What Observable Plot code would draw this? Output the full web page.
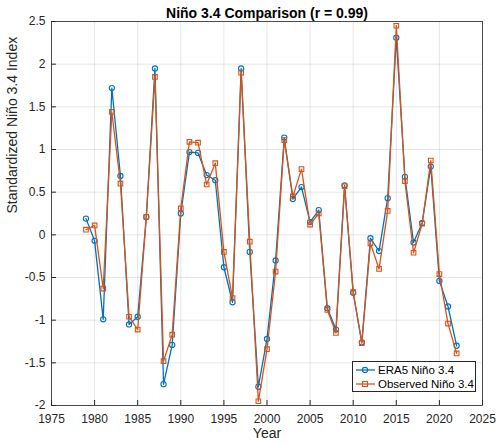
<!DOCTYPE html>
<html><head><meta charset="utf-8">
<script src="https://cdn.jsdelivr.net/npm/d3@7"></script>
<script src="https://cdn.jsdelivr.net/npm/@observablehq/plot@0.6"></script>
<style>
body{margin:0;background:#fff;font-family:"Liberation Sans",Helvetica,Arial,sans-serif;}
#wrap{position:relative;width:500px;height:445px;}
#legend{position:absolute;left:352px;top:361px;width:124px;height:31px;border:1px solid #262626;background:#fff;font-size:11.5px;color:#000;box-sizing:border-box;white-space:nowrap;}
#legend .row{display:flex;align-items:center;height:14px;padding-left:3px;white-space:nowrap;}
#legend svg{margin-right:3px;flex:none;}
</style></head>
<body><div id="wrap"><div id="legend"></div></div>
<script>
const years = d3.range(1979, 2023);
const era5 = [0.19,-0.07,-0.99,1.72,0.69,-1.05,-0.96,0.21,1.95,-1.75,-1.29,0.25,0.97,0.96,0.70,0.64,-0.38,-0.79,1.95,-0.20,-1.78,-1.22,-0.30,1.14,0.42,0.56,0.15,0.29,-0.86,-1.11,0.58,-0.68,-1.26,-0.04,-0.19,0.43,2.31,0.68,-0.09,0.14,0.80,-0.54,-0.84,-1.30];
const observed = [0.06,0.11,-0.63,1.44,0.60,-0.96,-1.11,0.21,1.85,-1.48,-1.17,0.31,1.09,1.08,0.59,0.84,-0.20,-0.74,1.90,-0.08,-1.95,-1.34,-0.43,1.11,0.45,0.77,0.12,0.25,-0.88,-1.15,0.57,-0.67,-1.27,-0.10,-0.40,0.28,2.45,0.63,-0.21,0.13,0.87,-0.46,-1.04,-1.39];
const seriesNames = ["ERA5 Niño 3.4", "Observed Niño 3.4"];
const colors = ["#0072BD", "#D95319"];
const xTicks = d3.range(1975, 2026, 5);
const yTicks = d3.range(-2, 2.51, 0.5);
const title = "Niño 3.4 Comparison (r = 0.99)";

const rows = [];
years.forEach((y,i)=>{
  rows.push({year:y, value:era5[i], series:seriesNames[0]});
  rows.push({year:y, value:observed[i], series:seriesNames[1]});
});
const A = rows.filter(d=>d.series===seriesNames[0]);
const B = rows.filter(d=>d.series===seriesNames[1]);
const fmtX = d=>String(d);
const fmtY = d=>String(+d.toFixed(1));

const chart = Plot.plot({
  width: 500, height: 445,
  marginTop: 21, marginBottom: 40, marginLeft: 51, marginRight: 18,
  style: {fontFamily: '"Liberation Sans",Helvetica,Arial,sans-serif', fontSize: "12px", color: "#262626", background: "#fff"},
  x: {domain: [1975, 2025], label: null},
  y: {domain: [-2, 2.5], label: null},
  marks: [
    Plot.gridX(xTicks, {stroke: "#000", strokeOpacity: 0.1}),
    Plot.gridY(yTicks, {stroke: "#000", strokeOpacity: 0.1}),
    Plot.axisX(xTicks, {tickSize: 0, tickPadding: 9, fontSize: 12, fill: "#262626", tickFormat: fmtX}),
    Plot.axisY(yTicks, {tickSize: 0, tickPadding: 6, fontSize: 12, fill: "#262626", tickFormat: fmtY}),
    Plot.tickX(xTicks, {x: d=>d, stroke: "#262626", insetTop: 379}),
    Plot.tickY(yTicks, {y: d=>d, stroke: "#262626", insetRight: 426}),
    Plot.line(A, {x: "year", y: "value", stroke: colors[0], strokeWidth: 1.3}),
    Plot.dot(A, {x: "year", y: "value", stroke: colors[0], r: 2.6, strokeWidth: 1.1, fill: "none"}),
    Plot.line(B, {x: "year", y: "value", stroke: colors[1], strokeWidth: 1.3}),
    Plot.dot(B, {x: "year", y: "value", stroke: colors[1], symbol: "square", r: 2.6, strokeWidth: 1.1, fill: "none"}),
    Plot.frame({stroke: "#262626", strokeWidth: 0.8}),
    Plot.text([title], {frameAnchor: "top", dy: -13, fontWeight: "bold", fontSize: 14, fill: "#000"}),
    Plot.text(["Year"], {frameAnchor: "bottom", dy: 32, fontSize: 14, fill: "#262626"}),
    Plot.text(["Standardized Niño 3.4 Index"], {frameAnchor: "left", dx: -39, rotate: -90, fontSize: 14, fill: "#262626"})
  ]
});
document.getElementById("wrap").prepend(chart);

const leg = document.getElementById("legend");
seriesNames.forEach((name,i)=>{
  const row = document.createElement("div");
  row.className = "row";
  const sym = i===0
    ? `<circle cx="9" cy="5" r="2.6" fill="none" stroke="${colors[0]}" stroke-width="1.1"/>`
    : `<rect x="6.5" y="2.5" width="5" height="5" fill="none" stroke="${colors[1]}" stroke-width="1.1"/>`;
  row.innerHTML = `<svg width="19" height="10"><line x1="0" y1="5" x2="19" y2="5" stroke="${colors[i]}" stroke-width="1.3"/>${sym}</svg><span>${name}</span>`;
  if(i===0) row.style.marginTop = "1px";
  leg.appendChild(row);
});
</script></body></html>
